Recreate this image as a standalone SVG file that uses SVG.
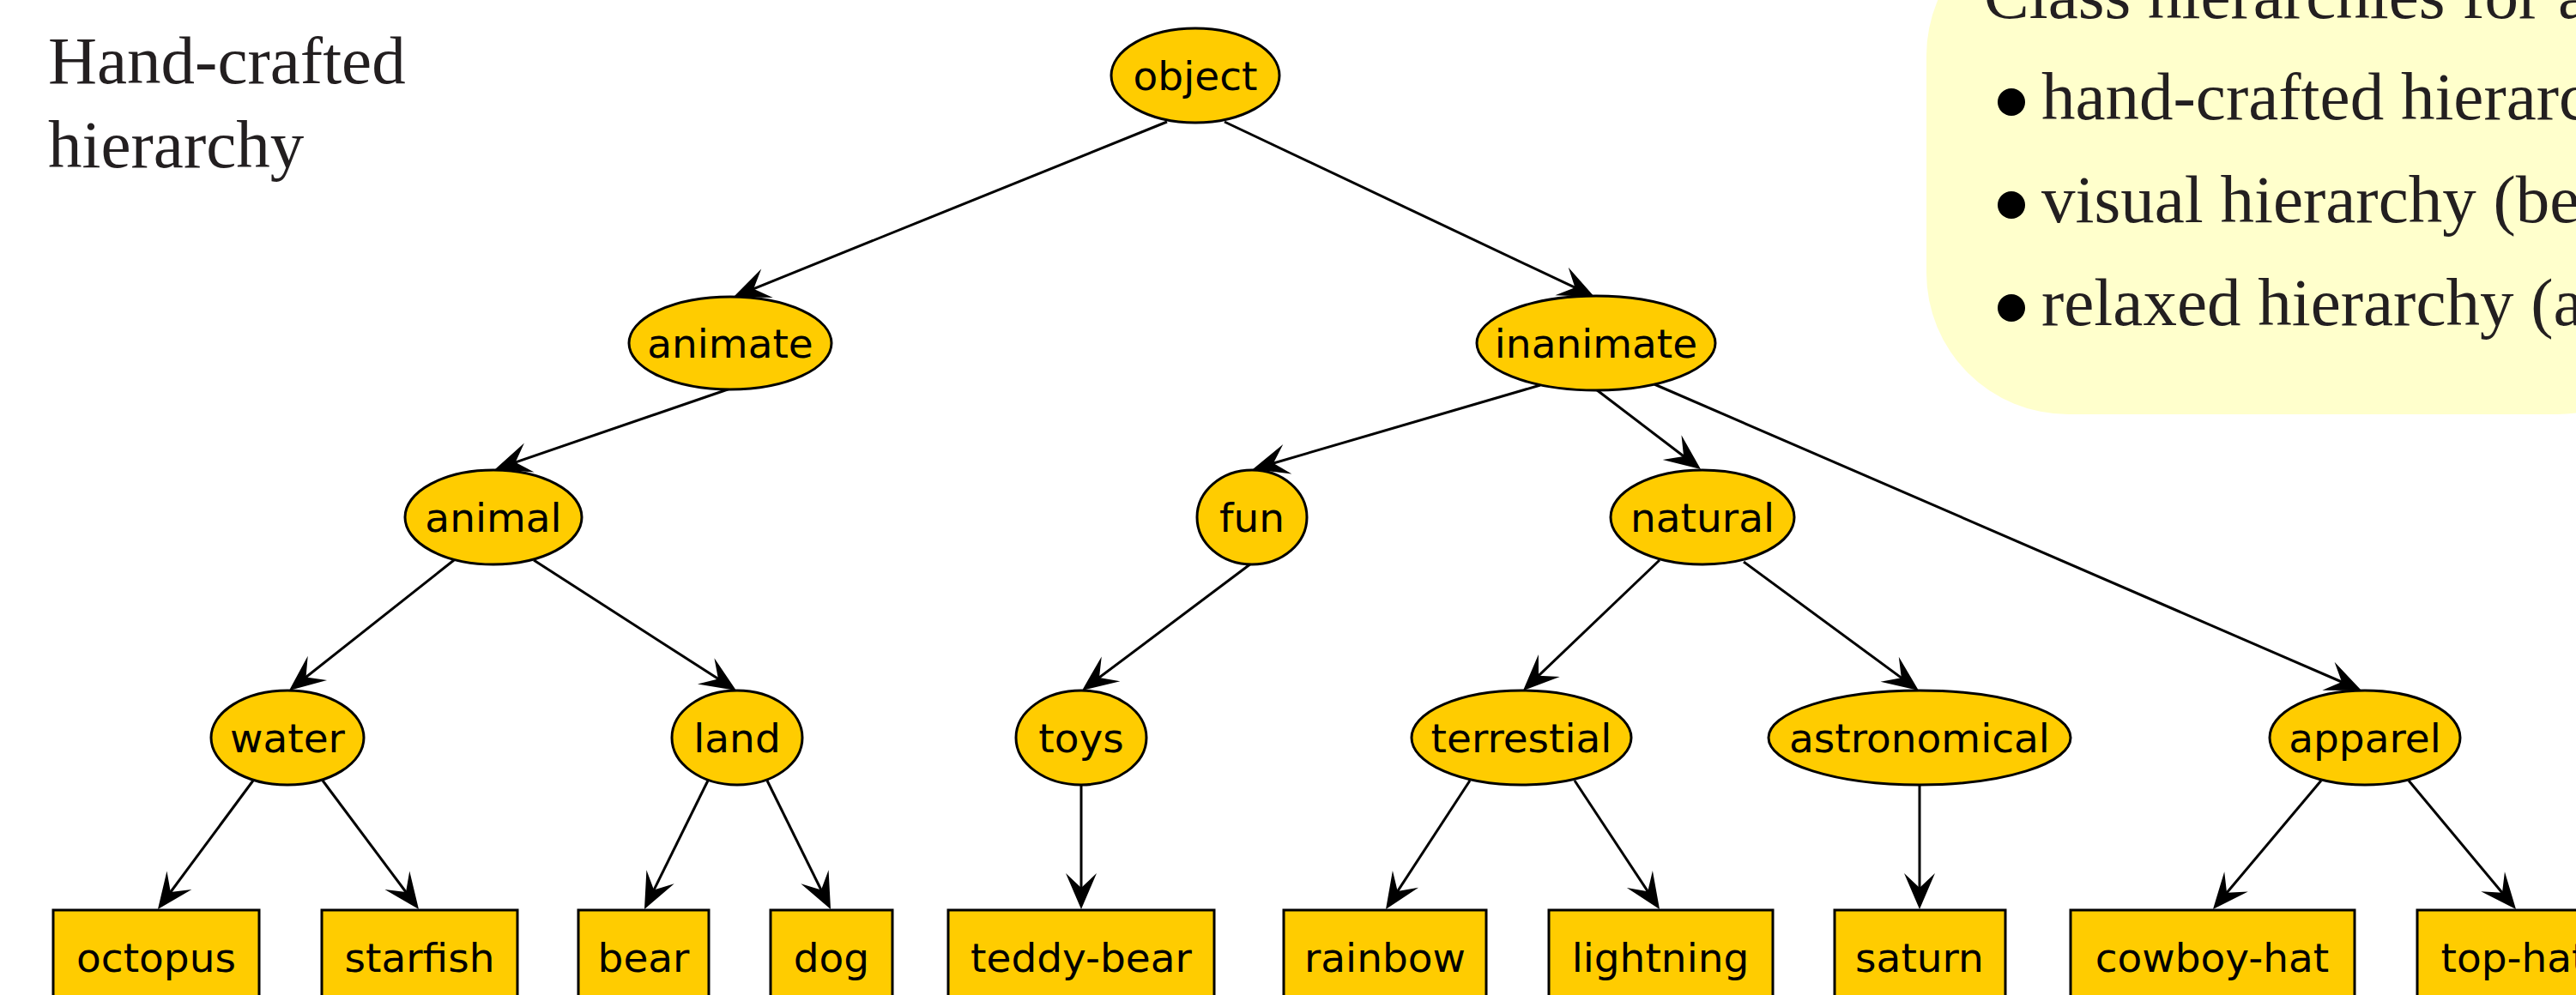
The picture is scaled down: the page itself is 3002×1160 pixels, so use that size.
<svg xmlns="http://www.w3.org/2000/svg" width="3002" height="1160" viewBox="0 0 3002 1160">
<style>
.nd ellipse,.nd rect{fill:#ffcc00;stroke:#000;stroke-width:3}
.nd text{font-family:"DejaVu Sans",sans-serif;font-size:47px;fill:#000;text-anchor:middle}
.ed line{stroke:#000;stroke-width:3;marker-end:url(#ah)}
.serif{font-family:"Liberation Serif","Times New Roman",serif;font-size:79px;fill:#231f20}
</style>
<defs>
<marker id="ah" markerUnits="userSpaceOnUse" orient="auto" refX="0" refY="0" markerWidth="60" markerHeight="40" overflow="visible">
<path d="M10,0 L-32,-18 L-15,0 L-32,18 Z" fill="#000"/>
</marker>
</defs>
<rect width="3002" height="1160" fill="#fff"/>
<g id="panel">
<rect x="2245" y="-100" width="900" height="583" rx="165" ry="165" fill="#ffffcc"/>
<text class="serif" x="2312" y="21">Class hierarchies for a</text>
<circle cx="2344" cy="119" r="16" fill="#000"/>
<text class="serif" x="2379" y="139">hand-crafted hierarchy</text>
<circle cx="2344" cy="239" r="16" fill="#000"/>
<text class="serif" x="2379" y="259">visual hierarchy (be</text>
<circle cx="2344" cy="359" r="16" fill="#000"/>
<text class="serif" x="2379" y="379">relaxed hierarchy (a</text>
</g>
<g id="title">
<text class="serif" x="56" y="97">Hand-crafted</text>
<text class="serif" x="56" y="195">hierarchy</text>
</g>
<g id="connectors" class="ed">
<line x1="1360" y1="142" x2="864.3" y2="342.3"/>
<line x1="1427" y1="142" x2="1849" y2="341.7"/>
<line x1="851" y1="453" x2="586.5" y2="543.8"/>
<line x1="1795" y1="449" x2="1469.6" y2="544.2"/>
<line x1="1860" y1="454" x2="1974" y2="541"/>
<line x1="1928" y1="448" x2="2742.8" y2="801"/>
<line x1="529" y1="653" x2="344.8" y2="798.8"/>
<line x1="622" y1="653" x2="849.6" y2="799.6"/>
<line x1="1458" y1="657" x2="1269" y2="799"/>
<line x1="1934" y1="653" x2="1782.2" y2="798.1"/>
<line x1="2032" y1="655" x2="2227.9" y2="799.1"/>
<line x1="295" y1="910" x2="189.9" y2="1052"/>
<line x1="376" y1="910" x2="482" y2="1052"/>
<line x1="825" y1="910" x2="755.4" y2="1051"/>
<line x1="894" y1="910" x2="963.6" y2="1051"/>
<line x1="1260" y1="914" x2="1260" y2="1050"/>
<line x1="1713" y1="910" x2="1620.5" y2="1051.6"/>
<line x1="1835" y1="910" x2="1928.5" y2="1051.7"/>
<line x1="2237" y1="914" x2="2237" y2="1050"/>
<line x1="2705" y1="910" x2="2585.4" y2="1052.3"/>
<line x1="2807" y1="910" x2="2925.6" y2="1052.3"/>
</g>
<g id="object" class="nd"><ellipse cx="1393" cy="88" rx="98" ry="55"/><text x="1393" y="105">object</text></g>
<g id="animate" class="nd"><ellipse cx="851" cy="400" rx="118" ry="54"/><text x="851" y="417">animate</text></g>
<g id="inanimate" class="nd"><ellipse cx="1860" cy="400" rx="139" ry="55"/><text x="1860" y="417">inanimate</text></g>
<g id="animal" class="nd"><ellipse cx="575" cy="603" rx="103" ry="55"/><text x="575" y="620">animal</text></g>
<g id="fun" class="nd"><ellipse cx="1459" cy="603" rx="64" ry="55"/><text x="1459" y="620">fun</text></g>
<g id="natural" class="nd"><ellipse cx="1984" cy="603" rx="107" ry="55"/><text x="1984" y="620">natural</text></g>
<g id="water" class="nd"><ellipse cx="335" cy="860" rx="89" ry="55"/><text x="335" y="877">water</text></g>
<g id="land" class="nd"><ellipse cx="859" cy="860" rx="76" ry="55"/><text x="859" y="877">land</text></g>
<g id="toys" class="nd"><ellipse cx="1260" cy="860" rx="76" ry="55"/><text x="1260" y="877">toys</text></g>
<g id="terrestial" class="nd"><ellipse cx="1773" cy="860" rx="128" ry="55"/><text x="1773" y="877">terrestial</text></g>
<g id="astronomical" class="nd"><ellipse cx="2237" cy="860" rx="176" ry="55"/><text x="2237" y="877">astronomical</text></g>
<g id="apparel" class="nd"><ellipse cx="2756" cy="860" rx="111" ry="55"/><text x="2756" y="877">apparel</text></g>
<g id="octopus" class="nd"><rect x="62" y="1061" width="240" height="110"/><text x="182" y="1133">octopus</text></g>
<g id="starfish" class="nd"><rect x="375" y="1061" width="228" height="110"/><text x="489" y="1133">starfish</text></g>
<g id="bear" class="nd"><rect x="674" y="1061" width="152" height="110"/><text x="750" y="1133">bear</text></g>
<g id="dog" class="nd"><rect x="898" y="1061" width="142" height="110"/><text x="969" y="1133">dog</text></g>
<g id="teddy-bear" class="nd"><rect x="1105" y="1061" width="310" height="110"/><text x="1260" y="1133">teddy-bear</text></g>
<g id="rainbow" class="nd"><rect x="1496" y="1061" width="236" height="110"/><text x="1614" y="1133">rainbow</text></g>
<g id="lightning" class="nd"><rect x="1805" y="1061" width="261" height="110"/><text x="1935" y="1133">lightning</text></g>
<g id="saturn" class="nd"><rect x="2138" y="1061" width="199" height="110"/><text x="2237" y="1133">saturn</text></g>
<g id="cowboy-hat" class="nd"><rect x="2413" y="1061" width="331" height="110"/><text x="2578" y="1133">cowboy-hat</text></g>
<g id="top-hat" class="nd"><rect x="2817" y="1061" width="226" height="110"/><text x="2930" y="1133">top-hat</text></g>
</svg>
